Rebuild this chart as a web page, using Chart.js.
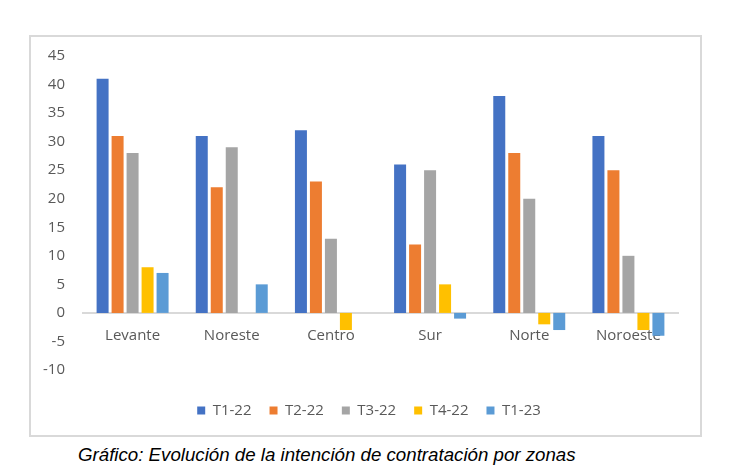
<!DOCTYPE html>
<html>
<head>
<meta charset="utf-8">
<script src="https://cdn.jsdelivr.net/npm/chart.js@4.4.1/dist/chart.umd.min.js"></script>
<style>
  body { margin: 0; background: #fff; }
  #box {
    position: absolute; left: 29px; top: 35px;
    width: 673px; height: 402px; box-sizing: border-box;
    border: 2px solid #d9d9d9;
  }
  #chart { display: block; }
  #caption {
    position: absolute; left: 78px; top: 444px;
    font: italic 18.7px "Liberation Sans", Arial, sans-serif; color: #000;
    white-space: nowrap;
  }
</style>
</head>
<body>
<div id="box"><canvas id="chart" width="669" height="398" style="width:669px;height:398px"></canvas></div>
<div id="caption">Gráfico: Evolución de la intención de contratación por zonas</div>
<script>
const zonas = ['Levante', 'Noreste', 'Centro', 'Sur', 'Norte', 'Noroeste'];
const t1_22 = [41, 31, 32, 26, 38, 31];
const t2_22 = [31, 22, 23, 12, 28, 25];
const t3_22 = [28, 29, 13, 25, 20, 10];
const t4_22 = [8, 0, -3, 5, -2, -3];
const t1_23 = [7, 5, 0, -1, -3, -4];

const textColor = '#595959';
const font = { family: '"Open Sans", sans-serif', size: 15 };

const series = [
  { label: 'T1-22', data: t1_22, color: '#4472C4' },
  { label: 'T2-22', data: t2_22, color: '#ED7D31' },
  { label: 'T3-22', data: t3_22, color: '#A5A5A5' },
  { label: 'T4-22', data: t4_22, color: '#FFC000' },
  { label: 'T1-23', data: t1_23, color: '#5B9BD5' }
];

// empty strips used only for spacing
const spacer = (axis, position, size) => ({
  type: axis === 'x' ? 'category' : 'linear',
  axis,
  position,
  grid: { display: false, drawTicks: false },
  border: { display: false },
  ticks: { display: false },
  afterFit(scale) {
    if (axis === 'x') scale.height = size; else scale.width = size;
  }
});

new Chart(document.getElementById('chart'), {
  type: 'bar',
  data: {
    labels: zonas,
    datasets: series.map((s) => ({
      label: s.label,
      data: s.data,
      xAxisID: 'x',
      yAxisID: 'y',
      backgroundColor: s.color,
      borderWidth: 0,
      barPercentage: 0.8,
      categoryPercentage: 0.756
    }))
  },
  options: {
    responsive: false,
    animation: false,
    layout: { padding: { left: 12, right: 5, top: 19, bottom: 7 } },
    plugins: {
      tooltip: { enabled: false },
      legend: {
        position: 'bottom',
        labels: {
          boxWidth: 8, boxHeight: 8, padding: 18,
          color: textColor,
          font: { family: '"Open Sans", sans-serif', size: 15 }
        }
      }
    },
    scales: {
      x: {
        axis: 'x',
        position: { y: 0 },
        grid: { display: false, drawTicks: false },
        border: { display: true, color: '#d9d9d9', width: 2 },
        ticks: { color: textColor, font, padding: 14 },
        afterFit(scale) { scale.paddingLeft = 0; scale.paddingRight = 0; }
      },
      y: {
        min: -10, max: 45,
        grid: { display: false, drawTicks: false },
        border: { display: false },
        ticks: { stepSize: 5, color: textColor, font, padding: 18 },
        afterFit(scale) { scale.width = 40; scale.paddingTop = 0; scale.paddingBottom = 0; }
      },
      padBottom: spacer('x', 'bottom', 15),
      padRight: spacer('y', 'right', 17)
    }
  }
});
</script>
</body>
</html>
